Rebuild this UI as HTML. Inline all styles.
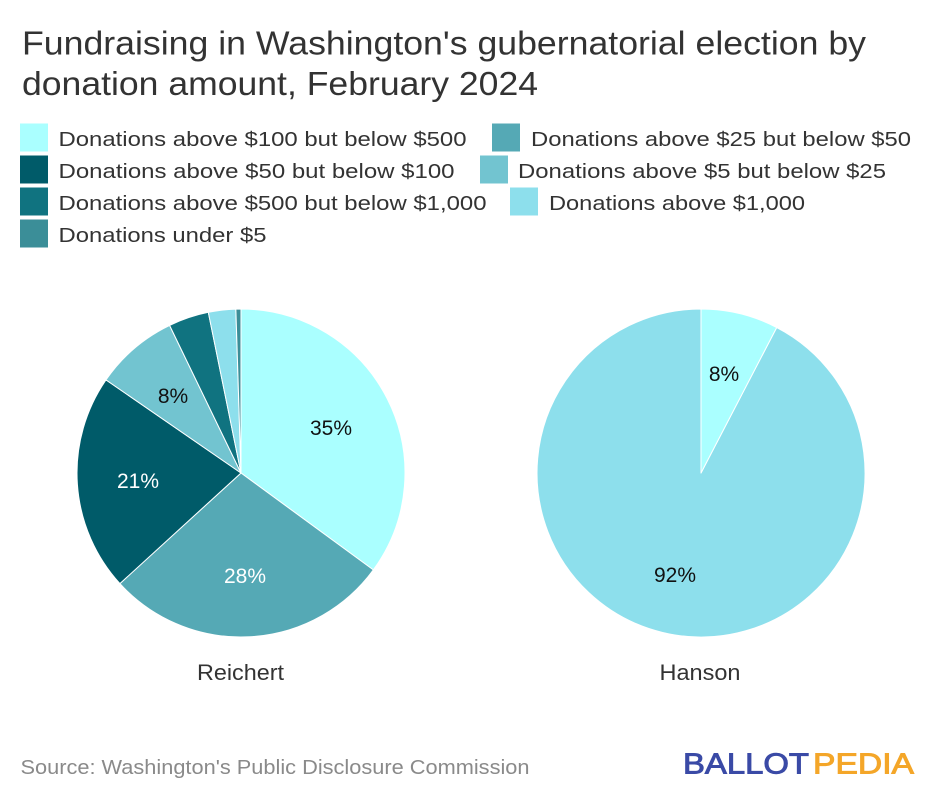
<!DOCTYPE html>
<html>
<head>
<meta charset="utf-8">
<style>
  html, body { margin: 0; padding: 0; background: #ffffff; }
  svg { display: block; }
  text { font-family: "Liberation Sans", Arial, sans-serif; }
</style>
</head>
<body>
<svg width="940" height="808" viewBox="0 0 940 808" xmlns="http://www.w3.org/2000/svg">
  <rect x="0" y="0" width="940" height="808" fill="#ffffff"/>

  <!-- Title -->
  <text x="22" y="54.5" font-size="33" fill="#333333" textLength="844" lengthAdjust="spacingAndGlyphs">Fundraising in Washington's gubernatorial election by</text>
  <text x="22" y="95" font-size="33" fill="#333333" textLength="516" lengthAdjust="spacingAndGlyphs">donation amount, February 2024</text>

  <!-- Legend -->
  <g font-size="20.5" fill="#333333">
    <rect x="20" y="123.5" width="28" height="28" fill="#aaffff"/>
    <text x="58.5" y="146" textLength="408" lengthAdjust="spacingAndGlyphs">Donations above $100 but below $500</text>
    <rect x="492" y="123.5" width="28" height="28" fill="#55a9b5"/>
    <text x="531" y="146" textLength="380" lengthAdjust="spacingAndGlyphs">Donations above $25 but below $50</text>

    <rect x="20" y="155.5" width="28" height="28" fill="#005b69"/>
    <text x="58.5" y="178" textLength="396" lengthAdjust="spacingAndGlyphs">Donations above $50 but below $100</text>
    <rect x="480" y="155.5" width="28" height="28" fill="#72c4d0"/>
    <text x="518" y="178" textLength="368" lengthAdjust="spacingAndGlyphs">Donations above $5 but below $25</text>

    <rect x="20" y="187.5" width="28" height="28" fill="#107380"/>
    <text x="58.5" y="210" textLength="428" lengthAdjust="spacingAndGlyphs">Donations above $500 but below $1,000</text>
    <rect x="510" y="187.5" width="28" height="28" fill="#8ddfec"/>
    <text x="549" y="210" textLength="256" lengthAdjust="spacingAndGlyphs">Donations above $1,000</text>

    <rect x="20" y="219.5" width="28" height="28" fill="#3b8e98"/>
    <text x="58.5" y="242" textLength="208" lengthAdjust="spacingAndGlyphs">Donations under $5</text>
  </g>

  <!-- Reichert pie: center (241,473) r=164 -->
  <g stroke="#ffffff" stroke-width="1" stroke-linejoin="round">
    <path d="M241,473 L241,309 A164,164 0 0 1 373.3,569.9 Z" fill="#aaffff"/>
    <path d="M241,473 L373.3,569.9 A164,164 0 0 1 119.9,583.6 Z" fill="#55a9b5"/>
    <path d="M241,473 L119.9,583.6 A164,164 0 0 1 106.0,379.9 Z" fill="#005b69"/>
    <path d="M241,473 L106.0,379.9 A164,164 0 0 1 169.6,325.4 Z" fill="#72c4d0"/>
    <path d="M241,473 L169.6,325.4 A164,164 0 0 1 208.3,312.3 Z" fill="#107380"/>
    <path d="M241,473 L208.3,312.3 A164,164 0 0 1 235.85,309.1 Z" fill="#8ddfec"/>
    <path d="M241,473 L235.85,309.1 A164,164 0 0 1 241,309 Z" fill="#3b8e98"/>
  </g>
  <g font-size="21" text-anchor="middle">
    <text x="331" y="435" fill="#111111">35%</text>
    <text x="245" y="583" fill="#ffffff">28%</text>
    <text x="138" y="488" fill="#ffffff">21%</text>
    <text x="173" y="403" fill="#111111">8%</text>
  </g>

  <!-- Hanson pie: center (701,473) r=164 -->
  <g stroke="#ffffff" stroke-width="1" stroke-linejoin="round">
    <path d="M701,473 L776.7,327.5 A164,164 0 1 1 701,309 Z" fill="#8ddfec"/>
    <path d="M701,473 L701,309 A164,164 0 0 1 776.7,327.5 Z" fill="#aaffff"/>
  </g>
  <g font-size="21" text-anchor="middle" fill="#111111">
    <text x="724" y="381">8%</text>
    <text x="675" y="582">92%</text>
  </g>

  <!-- Pie labels -->
  <g font-size="22" fill="#333333">
    <text x="197" y="680" textLength="87" lengthAdjust="spacingAndGlyphs">Reichert</text>
    <text x="659.5" y="680" textLength="81" lengthAdjust="spacingAndGlyphs">Hanson</text>
  </g>

  <!-- Source -->
  <text x="20.5" y="774" font-size="20" fill="#8a8a8a" textLength="509" lengthAdjust="spacingAndGlyphs">Source: Washington's Public Disclosure Commission</text>

  <!-- Ballotpedia logo -->
  <text x="683" y="773.3" font-size="28.5" fill="#3a4aa6" stroke="#3a4aa6" stroke-width="0.9" textLength="126" lengthAdjust="spacingAndGlyphs">BALLOT</text>
  <text x="813" y="773.3" font-size="28.5" fill="#f4a629" stroke="#f4a629" stroke-width="0.9" textLength="101" lengthAdjust="spacingAndGlyphs">PEDIA</text>
</svg>
</body>
</html>
